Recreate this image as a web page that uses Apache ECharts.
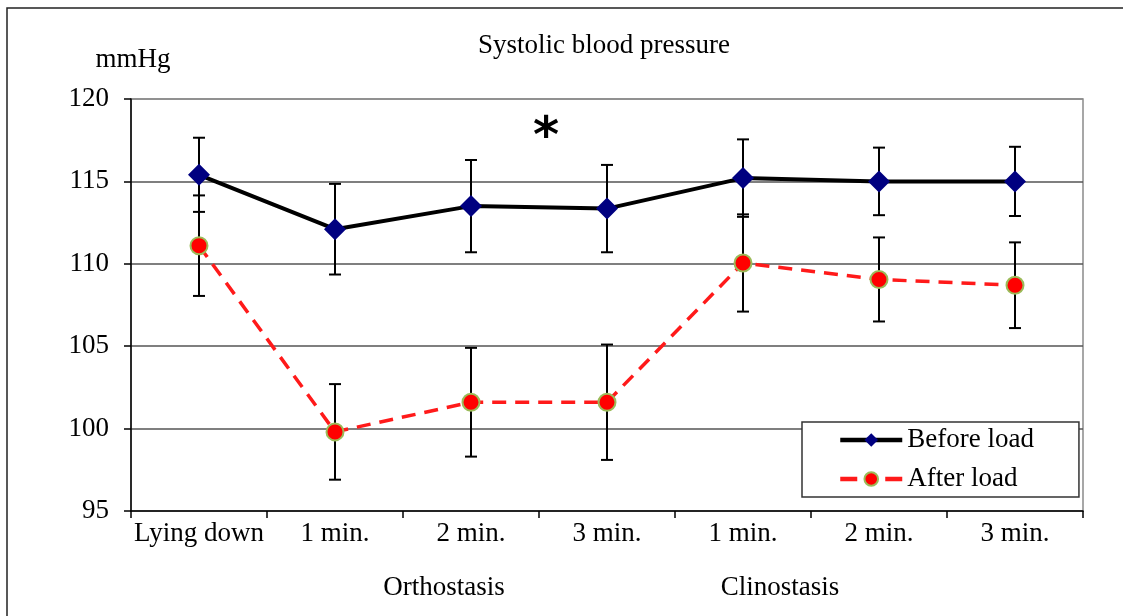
<!DOCTYPE html>
<html>
<head>
<meta charset="utf-8">
<script src="https://cdn.jsdelivr.net/npm/echarts@6/dist/echarts.min.js"></script>
<style>
  html, body { margin: 0; padding: 0; background: #ffffff; }
  #chart { width: 1123px; height: 616px; }
</style>
</head>
<body>
<div id="chart"></div>
<script>
// ---- data ----
const categories = ['Lying down', '1 min.', '2 min.', '3 min.', '1 min.', '2 min.', '3 min.'];
const beforeValues = [115.4, 112.1, 113.5, 113.35, 115.2, 115.0, 115.0];
const beforeErr = [2.25, 2.75, 2.8, 2.65, 2.35, 2.05, 2.1];
const afterValues = [111.1, 99.8, 101.6, 101.6, 110.05, 109.05, 108.7];
const afterErr = [3.05, 2.9, 3.3, 3.5, 2.95, 2.55, 2.6];
const yTicks = { min: 95, max: 120, interval: 5 };
const groupLabels = ['Orthostasis', 'Clinostasis'];

const FONT = "'Liberation Serif', 'DejaVu Serif', serif";
const FS = 27;

function errData(values, errs) {
  return values.map((v, i) => [i, v - errs[i], v + errs[i]]);
}

function renderErr(params, api) {
  const x = api.value(0);
  const lo = api.coord([x, api.value(1)]);
  const hi = api.coord([x, api.value(2)]);
  const hw = 6;
  const style = { stroke: '#000', lineWidth: 2 };
  return {
    type: 'group',
    children: [
      { type: 'line', shape: { x1: lo[0], y1: lo[1], x2: hi[0], y2: hi[1] }, style },
      { type: 'line', shape: { x1: lo[0] - hw, y1: lo[1], x2: lo[0] + hw, y2: lo[1] }, style },
      { type: 'line', shape: { x1: hi[0] - hw, y1: hi[1], x2: hi[0] + hw, y2: hi[1] }, style }
    ]
  };
}

const chart = echarts.init(document.getElementById('chart'), null, { renderer: 'canvas' });

const option = {
  backgroundColor: '#ffffff',
  animation: false,
  grid: { left: 131, right: 40, top: 99, bottom: 105, show: true, borderColor: '#8a8a8a', borderWidth: 1.5, backgroundColor: 'transparent' },
  xAxis: {
    type: 'category',
    data: categories,
    boundaryGap: true,
    axisLine: { lineStyle: { color: '#000', width: 1.5 } },
    axisTick: { show: true, length: 7, lineStyle: { color: '#000', width: 1.5 } },
    axisLabel: { color: '#000', fontSize: FS, fontFamily: FONT, margin: 9, interval: 0 },
    splitLine: { show: false }
  },
  yAxis: {
    type: 'value',
    min: yTicks.min,
    max: yTicks.max,
    interval: yTicks.interval,
    axisLine: { show: true, lineStyle: { color: '#000', width: 1.5 } },
    axisTick: { show: true, length: 7, lineStyle: { color: '#000', width: 1.5 } },
    axisLabel: { color: '#000', fontSize: FS, fontFamily: FONT, margin: 22 },
    splitLine: { show: true, lineStyle: { color: ['#8a8a8a', '#555', '#555', '#555', '#555', '#8a8a8a'], width: 1.5 } }
  },
  legend: {
    orient: 'vertical',
    left: 802,
    top: 422,
    padding: [3, 45, 3, 36],
    itemGap: 9,
    itemWidth: 62,
    itemHeight: 17,
    backgroundColor: '#fff',
    borderColor: '#333',
    borderWidth: 1.5,
    textStyle: { color: '#000', fontSize: FS, fontFamily: FONT, lineHeight: 30 },
    data: [
      { name: 'Before load', lineStyle: { width: 4.5 } },
      { name: 'After load', lineStyle: { width: 4.5, type: [17, 28] } }
    ]
  },
  series: [
    {
      name: 'errBefore', type: 'custom', z: 1, silent: true,
      renderItem: renderErr, data: errData(beforeValues, beforeErr)
    },
    {
      name: 'errAfter', type: 'custom', z: 1, silent: true,
      renderItem: renderErr, data: errData(afterValues, afterErr)
    },
    {
      name: 'Before load', type: 'line', z: 3,
      data: beforeValues,
      symbol: 'diamond', symbolSize: 22,
      lineStyle: { color: '#000', width: 4 },
      itemStyle: { color: '#000080', borderWidth: 0 },
      color: '#000080'
    },
    {
      name: 'After load', type: 'line', z: 4,
      data: afterValues,
      symbol: 'circle', symbolSize: 17,
      lineStyle: { color: '#ff1a1a', width: 3.5, type: [14, 9] },
      itemStyle: { color: '#ff0000', borderColor: '#9bbb59', borderWidth: 2 },
      color: '#ff0000'
    }
  ],
  graphic: [
    { type: 'rect', z: -10, shape: { x: 7, y: 8, width: 1140, height: 640 }, style: { fill: 'none', stroke: '#222', lineWidth: 1.5 } },
    { type: 'text', x: 604, y: 46, style: { text: 'Systolic blood pressure', textAlign: 'center', textVerticalAlign: 'middle', fontSize: FS, fontFamily: FONT, fill: '#000' } },
    { type: 'text', x: 133, y: 60, style: { text: 'mmHg', textAlign: 'center', textVerticalAlign: 'middle', fontSize: FS, fontFamily: FONT, fill: '#000' } },
    { type: 'text', x: 546, y: 139, style: { text: '*', textAlign: 'center', textVerticalAlign: 'middle', fontSize: 50, fontWeight: 'bold', fontFamily: "'DejaVu Sans', sans-serif", fill: '#000' } },
    { type: 'text', x: 444, y: 588, style: { text: groupLabels[0], textAlign: 'center', textVerticalAlign: 'middle', fontSize: FS, fontFamily: FONT, fill: '#000' } },
    { type: 'text', x: 780, y: 588, style: { text: groupLabels[1], textAlign: 'center', textVerticalAlign: 'middle', fontSize: FS, fontFamily: FONT, fill: '#000' } }
  ]
};

chart.setOption(option);
</script>
</body>
</html>
